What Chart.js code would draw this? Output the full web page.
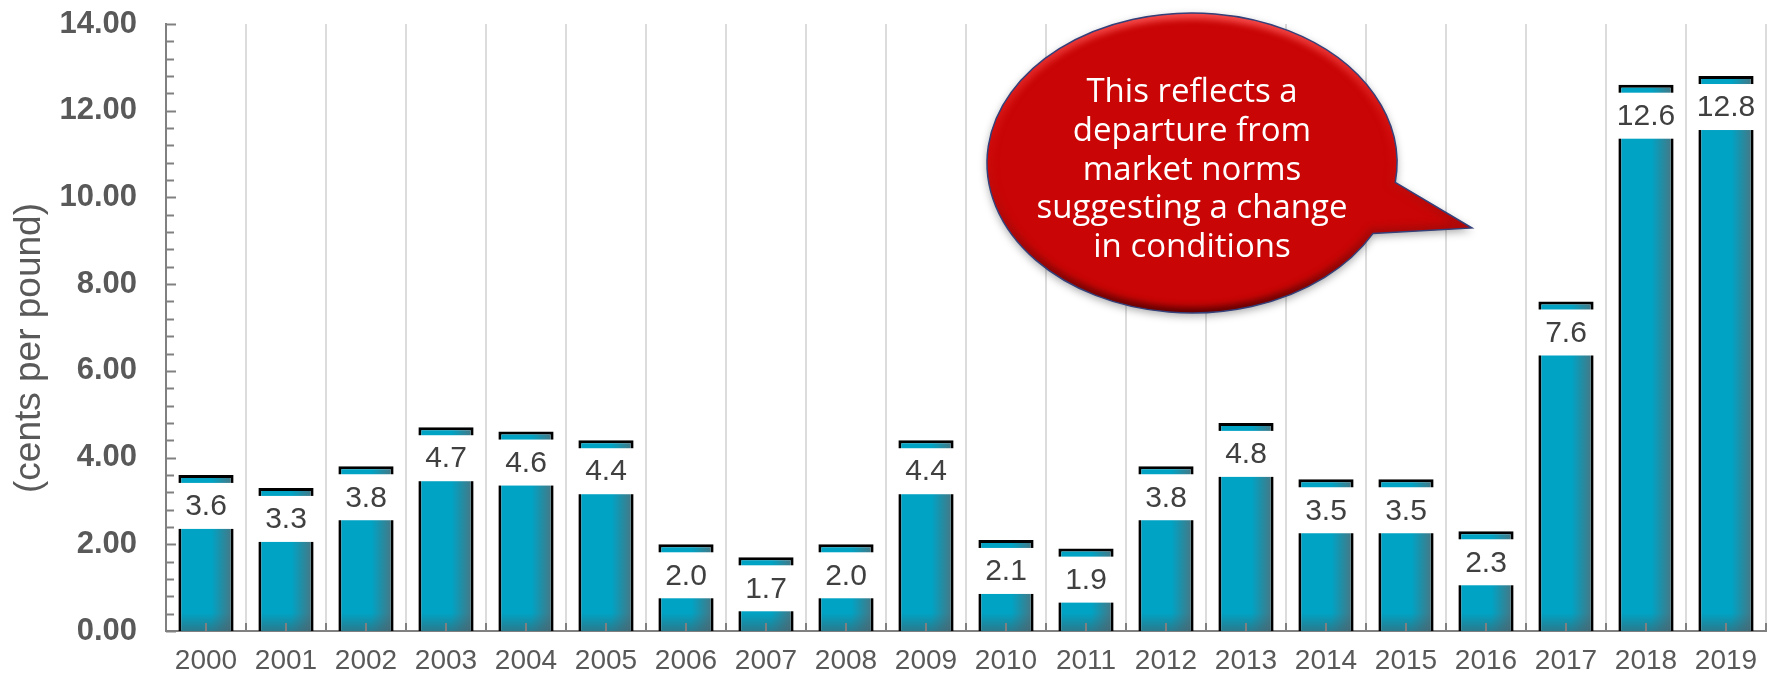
<!DOCTYPE html>
<html>
<head>
<meta charset="utf-8">
<script src="https://cdn.jsdelivr.net/npm/chart.js@4.4.1/dist/chart.umd.min.js"></script>
<style>
  html, body { margin: 0; padding: 0; background: #fff; }
  #wrap { width: 1771px; height: 677px; position: relative; }
</style>
</head>
<body>
<div id="wrap"><canvas id="priceChart"></canvas></div>
<script>
const years = ['2000','2001','2002','2003','2004','2005','2006','2007','2008','2009',
               '2010','2011','2012','2013','2014','2015','2016','2017','2018','2019'];
const prices = [3.6, 3.3, 3.8, 4.7, 4.6, 4.4, 2.0, 1.7, 2.0, 4.4,
                2.1, 1.9, 3.8, 4.8, 3.5, 3.5, 2.3, 7.6, 12.6, 12.8];
const yMax = 14;
const yStep = 2;
const yMinorStep = 0.4;
const yTitle = '(cents per pound)';
const calloutLines = ['This reflects a', 'departure from', 'market norms', 'suggesting a change', 'in conditions'];

const FONT = '"Liberation Sans", Arial, sans-serif';
const GREY = '#595959';
const BAR_PCT = 0.69;

function barFill(c) {
  const chart = c.chart;
  const xs = chart.scales && chart.scales.x;
  if (!xs || c.dataIndex === undefined) return '#00a3c4';
  const x = xs.getPixelForValue(c.dataIndex);
  const half = xs.width / years.length * BAR_PCT / 2;
  if (!Number.isFinite(x) || !Number.isFinite(half) || half <= 0) return '#00a3c4';
  const g = chart.ctx.createLinearGradient(x - half, 0, x + half, 0);
  g.addColorStop(0, '#00a3c4');
  g.addColorStop(0.6, '#00a3c4');
  g.addColorStop(1, '#4b7480');
  return g;
}

// extra drawing: bar shading, value boxes, axis ticks, y title, callout bubble
const decor = {
  id: 'decor',
  afterDatasetsDraw(chart) {
    const ctx = chart.ctx;
    const meta = chart.getDatasetMeta(0);
    ctx.save();
    meta.data.forEach((bar, i) => {
      const w = bar.width;
      const g = ctx.createLinearGradient(0, bar.base - 18, 0, bar.base);
      g.addColorStop(0, 'rgba(70,95,105,0)');
      g.addColorStop(1, 'rgba(70,95,105,0.6)');
      ctx.fillStyle = g;
      ctx.fillRect(bar.x - w / 2 + 3, bar.base - 18, w - 6, 18);
    });
    ctx.font = '30px ' + FONT;
    ctx.textAlign = 'center';
    ctx.textBaseline = 'middle';
    meta.data.forEach((bar, i) => {
      const txt = prices[i].toFixed(1);
      const tw = ctx.measureText(txt).width;
      const bw = tw + 17, bh = 46;
      const top = bar.y + 8;
      ctx.fillStyle = '#ffffff';
      ctx.fillRect(bar.x - bw / 2, top, bw, bh);
      ctx.fillStyle = '#404040';
      ctx.fillText(txt, bar.x, top + bh / 2 + 1);
    });
    ctx.restore();
  },
  afterDraw(chart) {
    const ctx = chart.ctx;
    const ys = chart.scales.y, xs = chart.scales.x;
    const area = chart.chartArea;
    ctx.save();
    ctx.strokeStyle = '#808080';
    ctx.lineWidth = 2;
    // y ticks pointing inward
    const n = Math.round(yMax / yMinorStep);
    for (let k = 0; k <= n; k++) {
      const v = k * yMinorStep;
      const py = Math.round(ys.getPixelForValue(v)) + 0.5;
      const major = k % Math.round(yStep / yMinorStep) === 0;
      ctx.beginPath();
      ctx.moveTo(area.left, py);
      ctx.lineTo(area.left + (major ? 10 : 8), py);
      ctx.stroke();
    }
    // x ticks at centres and boundaries
    const cw = xs.width / years.length;
    for (let i = 0; i < years.length; i++) {
      const cx = xs.getPixelForValue(i);
      [cx, cx + cw / 2].forEach(px => {
        ctx.beginPath();
        ctx.moveTo(px, area.bottom);
        ctx.lineTo(px, area.bottom - 8);
        ctx.stroke();
      });
    }
    // y title
    ctx.fillStyle = GREY;
    ctx.font = '37px ' + FONT;
    ctx.textAlign = 'center';
    ctx.textBaseline = 'middle';
    ctx.translate(30, 348);
    ctx.rotate(-Math.PI / 2);
    ctx.fillText(yTitle, 0, 0);
    ctx.restore();

    drawCallout(ctx);
  }
};

function drawCallout(ctx) {
  const cx = 1192, cy = 163, rx = 205, ry = 150;
  const a0 = 0.49, a1 = 0.13;
  const tip = [1472, 228];
  const path = () => {
    ctx.beginPath();
    ctx.ellipse(cx, cy, rx, ry, 0, a0, a1 + Math.PI * 2);
    ctx.lineTo(tip[0], tip[1]);
    ctx.closePath();
  };
  ctx.save();
  ctx.shadowColor = 'rgba(0,0,0,0.35)';
  ctx.shadowBlur = 8;
  ctx.shadowOffsetY = 3;
  path();
  ctx.fillStyle = '#c90505';
  ctx.fill();
  ctx.restore();

  // bevel
  ctx.save();
  path();
  ctx.clip();
  const bg = ctx.createLinearGradient(0, cy - ry, 0, cy + ry);
  bg.addColorStop(0, 'rgba(255,90,90,0.85)');
  bg.addColorStop(0.45, 'rgba(220,20,20,0.3)');
  bg.addColorStop(1, 'rgba(80,0,0,0.85)');
  ctx.filter = 'blur(3px)';
  ctx.lineWidth = 12;
  ctx.strokeStyle = bg;
  path();
  ctx.stroke();
  ctx.restore();

  ctx.save();
  path();
  ctx.strokeStyle = '#34407a';
  ctx.lineWidth = 1.5;
  ctx.stroke();
  ctx.restore();

  ctx.save();
  ctx.fillStyle = '#ffffff';
  ctx.font = '33px "Open Sans", sans-serif';
  ctx.textAlign = 'center';
  ctx.textBaseline = 'alphabetic';
  calloutLines.forEach((line, i) => {
    ctx.fillText(line, cx, 102 + i * 38.75);
  });
  ctx.restore();
}

new Chart(document.getElementById('priceChart').getContext('2d'), {
  type: 'bar',
  data: {
    labels: years,
    datasets: [{
      label: 'Price',
      data: prices,
      backgroundColor: barFill,
      borderColor: '#000000',
      borderWidth: 3,
      borderSkipped: 'start',
      categoryPercentage: 1,
      barPercentage: BAR_PCT
    }]
  },
  options: {
    responsive: true,
    maintainAspectRatio: false,
    animation: false,
    devicePixelRatio: 1,
    layout: { padding: { top: 24, right: 5, left: 0, bottom: 0 } },
    plugins: { legend: { display: false }, tooltip: { enabled: false } },
    scales: {
      x: {
        grid: { offset: true, color: '#dcdcdc', lineWidth: 2, drawTicks: false },
        border: { color: '#808080', width: 2 },
        ticks: { color: GREY, font: { family: FONT, size: 28 }, padding: 13, autoSkip: false, maxRotation: 0 },
        afterFit(s) { s.height = 46; }
      },
      y: {
        min: 0, max: yMax,
        grid: { display: false, drawTicks: true, tickLength: 29 },
        border: { color: '#808080', width: 2 },
        ticks: {
          stepSize: yStep,
          color: GREY,
          padding: 0,
          font: { family: FONT, size: 31, weight: 'bold' },
          callback: v => Number(v).toFixed(2)
        },
        afterFit(s) { s.width = 166; }
      }
    }
  },
  plugins: [decor]
});
</script>
</body>
</html>
